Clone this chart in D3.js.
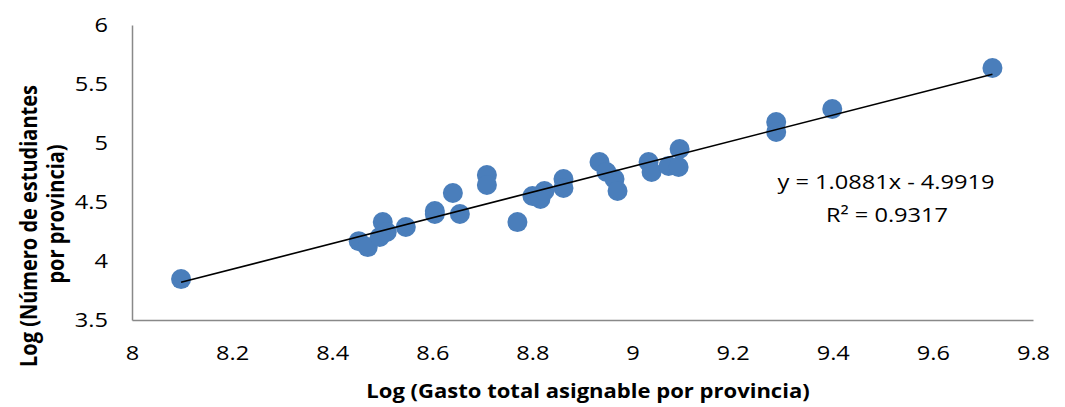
<!DOCTYPE html>
<meta charset="utf-8">
<script src="https://d3js.org/d3.v7.min.js"></script>
<style>
  body { margin: 0; background: #fff; }
  text { font-family: "Open Sans", sans-serif; }
</style>
<div id="chart"></div>
<script>

// log of spending per province (x) and log of number of students (y)
const gasto = [8.098, 8.453, 8.471, 8.495, 8.501, 8.509, 8.547, 8.605, 8.605, 8.641,
               8.655, 8.709, 8.709, 8.770, 8.800, 8.816, 8.824, 8.862, 8.862, 8.934,
               8.948, 8.964, 8.970, 9.032, 9.038, 9.072, 9.092, 9.094, 9.287, 9.287,
               9.399, 9.719];
const estudiantes = [3.847, 4.168, 4.118, 4.203, 4.330, 4.246, 4.288, 4.424, 4.398, 4.576,
                     4.398, 4.729, 4.644, 4.330, 4.551, 4.525, 4.593, 4.695, 4.619, 4.839,
                     4.754, 4.695, 4.593, 4.839, 4.754, 4.805, 4.797, 4.949, 5.178, 5.093,
                     5.288, 5.636];

const xTicks = [8, 8.2, 8.4, 8.6, 8.8, 9, 9.2, 9.4, 9.6, 9.8];
const yTicks = [3.5, 4, 4.5, 5, 5.5, 6];

// trendline as printed on the chart
const slope = 1.0881, intercept = -4.9919, r2 = 0.9317;

const width = 1065, height = 407;
const margin = {top: 25, right: 32, bottom: 87, left: 132};
const stretch = 1.18; // the original text is a bit wider than it is tall

const svg = d3.select("#chart")
  .append("svg")
    .attr("width", width)
    .attr("height", height);

const x = d3.scaleLinear()
  .domain([8, 9.8])
  .range([margin.left, width - margin.right]);

const y = d3.scaleLinear()
  .domain([3.5, 6])
  .range([height - margin.bottom, margin.top]);

// axes (no tick marks, just the lines and labels)
const xAxis = svg.append("g")
  .attr("transform", `translate(0,${y(3.5)})`)
  .call(d3.axisBottom(x).tickValues(xTicks).tickSize(0).tickPadding(26).tickFormat(d3.format("")));
const yAxis = svg.append("g")
  .attr("transform", `translate(${x(8)},0)`)
  .call(d3.axisLeft(y).tickValues(yTicks).tickSize(0).tickFormat(d3.format("")));

[xAxis, yAxis].forEach(a => {
  a.select(".domain").attr("stroke", "#898989").attr("stroke-width", 1.5);
  a.selectAll("text")
    .attr("font-family", "Open Sans")
    .attr("font-size", 20)
    .attr("fill", "#000");
});
xAxis.selectAll("text").attr("transform", `scale(${stretch},1)`);
yAxis.selectAll("text")
  .attr("x", -24 / stretch)
  .attr("transform", `scale(${stretch},1)`);

// points
svg.append("g")
  .selectAll("circle")
  .data(gasto.map((g, i) => [g, estudiantes[i]]))
  .join("circle")
    .attr("cx", d => x(d[0]))
    .attr("cy", d => y(d[1]))
    .attr("r", 10)
    .attr("fill", "#4a7ebb");

// linear trendline over data range
const xMin = d3.min(gasto), xMax = d3.max(gasto);
svg.append("line")
  .attr("x1", x(xMin)).attr("y1", y(slope * xMin + intercept))
  .attr("x2", x(xMax)).attr("y2", y(slope * xMax + intercept))
  .attr("stroke", "#000")
  .attr("stroke-width", 1.6);

// equation label
const eq = svg.append("g")
  .attr("text-anchor", "middle")
  .attr("font-size", 20)
  .attr("fill", "#000");
eq.append("text")
  .attr("transform", `translate(886,189) scale(${stretch},1)`)
  .text(`y = ${slope}x - ${Math.abs(intercept)}`);
eq.append("text")
  .attr("transform", `translate(887,222) scale(${stretch},1)`)
  .text(`R² = ${r2}`);

// axis titles
svg.append("text")
  .attr("transform", `translate(588,398) scale(1.16,1)`)
  .attr("text-anchor", "middle")
  .attr("font-size", 19)
  .attr("font-weight", "bold")
  .text("Log (Gasto total asignable por provincia)");

const yTitle = svg.append("g")
  .attr("text-anchor", "middle")
  .attr("font-size", 20)
  .attr("font-weight", "bold");
yTitle.append("text")
  .attr("transform", "translate(37,226) rotate(-90) scale(1,1.2)")
  .text("Log (Número de estudiantes");
yTitle.append("text")
  .attr("transform", "translate(64,214) rotate(-90) scale(1,1.2)")
  .text("por provincia)");

</script>
